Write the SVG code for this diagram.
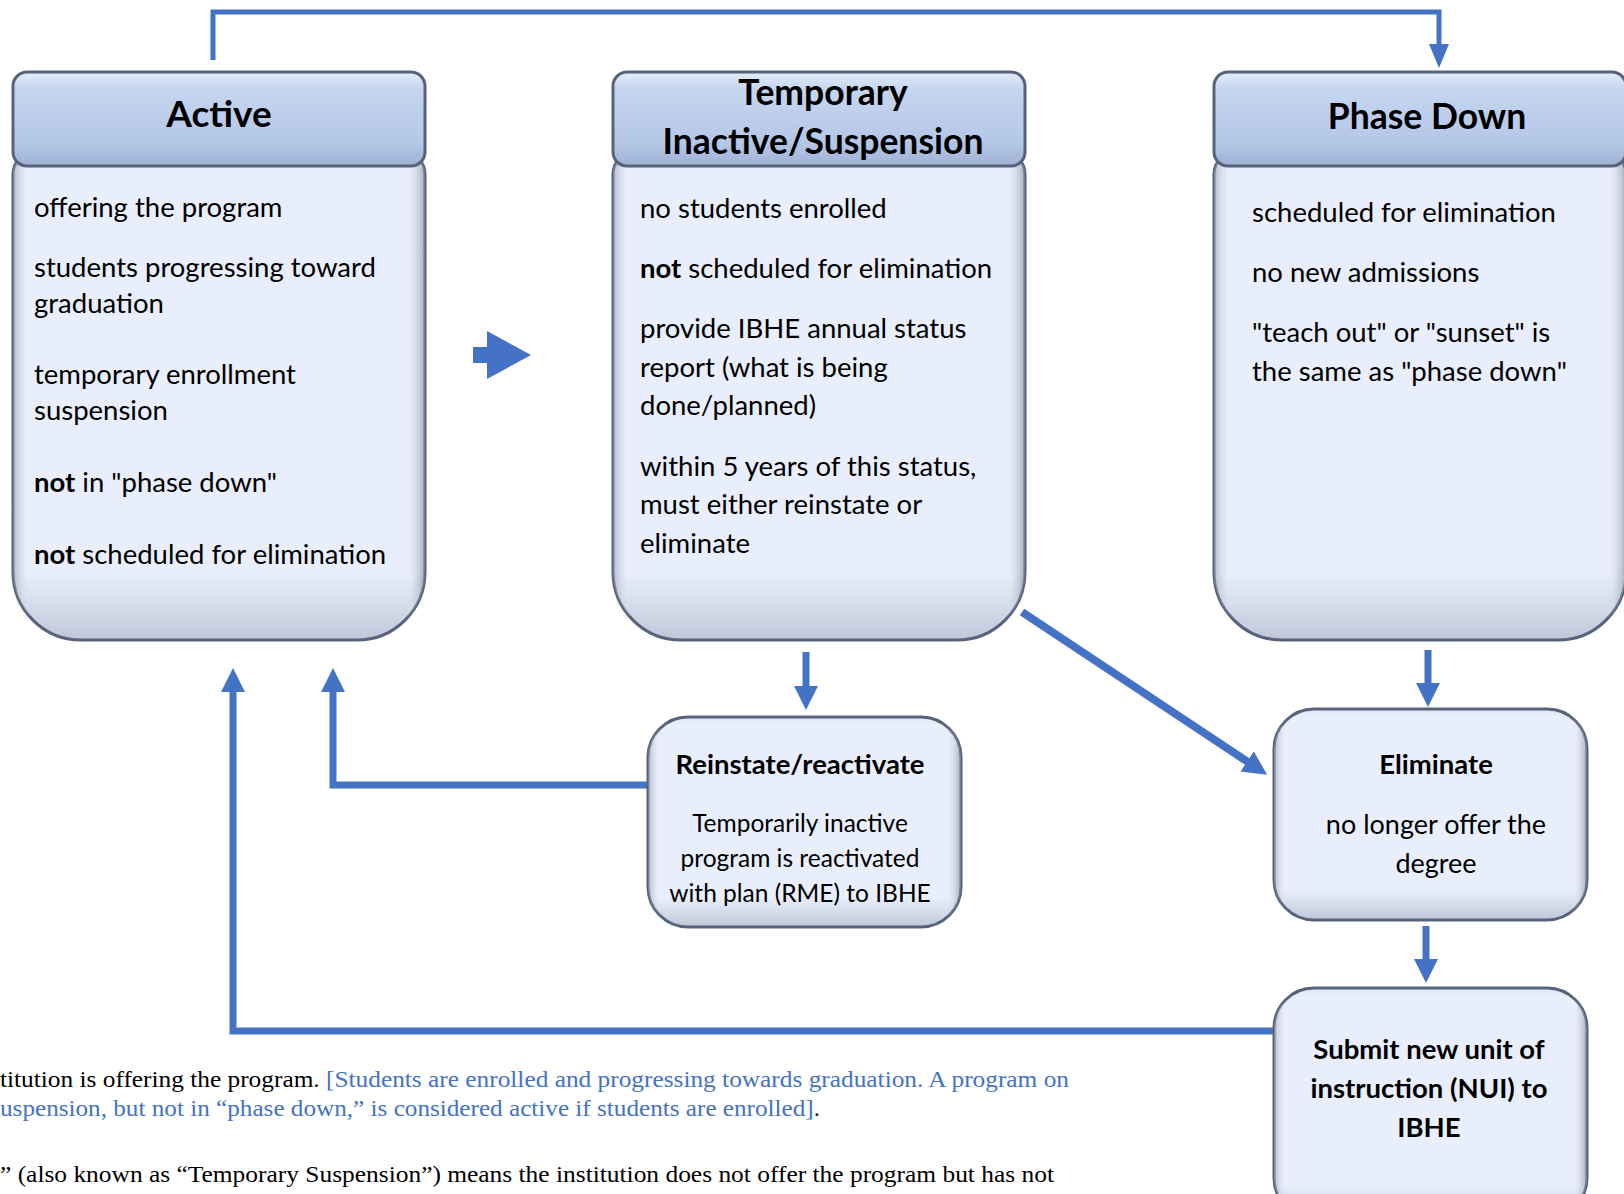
<svg xmlns="http://www.w3.org/2000/svg" width="1624" height="1194" viewBox="0 0 1624 1194">
<style>
.hdr{fill:url(#hdrGrad);stroke:#56637a;stroke-width:3}
.body{fill:url(#bodyV);stroke:#56637a;stroke-width:3}
.side{fill:url(#sideShade);stroke:none}
.t{font-family:Lato,"Open Sans","Liberation Sans",sans-serif;fill:#000}
.title{font-size:35.5px;font-weight:bold;text-anchor:middle}
.txt{font-size:27.5px}
.b{font-weight:bold}
.small{font-size:24.5px;text-anchor:middle}
.smallb{font-size:27.5px;font-weight:bold;text-anchor:middle}
.conn{fill:none;stroke:#4472c4;stroke-width:7}
.thin{fill:none;stroke:#4472c4;stroke-width:5}
.foot{font-family:"Liberation Serif","Times New Roman",serif;font-size:24px;fill:#000}
.blue{fill:#4472c4}
</style>
<defs>
<linearGradient id="hdrGrad" x1="0" y1="0" x2="0" y2="1">
<stop offset="0" stop-color="#e4ecf9"/>
<stop offset="0.18" stop-color="#c6d6f0"/>
<stop offset="0.75" stop-color="#b4c7e7"/>
<stop offset="1" stop-color="#9fb2d4"/>
</linearGradient>
<linearGradient id="bodyV" x1="0" y1="0" x2="0" y2="1">
<stop offset="0" stop-color="#dfe6f3"/>
<stop offset="0.04" stop-color="#e8eefb"/>
<stop offset="0.86" stop-color="#e8eefb"/>
<stop offset="1" stop-color="#bfc7d8"/>
</linearGradient>
<linearGradient id="sideShade" x1="0" y1="0" x2="1" y2="0">
<stop offset="0" stop-color="#8c96aa" stop-opacity="0.6"/>
<stop offset="0.045" stop-color="#ffffff" stop-opacity="0"/>
<stop offset="0.95" stop-color="#ffffff" stop-opacity="0"/>
<stop offset="1" stop-color="#7c869a" stop-opacity="0.65"/>
</linearGradient>
<marker id="ah" markerUnits="userSpaceOnUse" markerWidth="26" markerHeight="26" refX="1" refY="12" orient="auto">
<path d="M0,0 L24,12 L0,24 Z" fill="#4472c4"/>
</marker>
<marker id="ahs" markerUnits="userSpaceOnUse" markerWidth="26" markerHeight="22" refX="1" refY="10" orient="auto">
<path d="M0,0 L24,10 L0,20 Z" fill="#4472c4"/>
</marker>
</defs>

<g id="connectors">
<path class="thin" d="M213,60 L213,12 L1439,12 L1439,45" marker-end="url(#ahs)"/>
<path d="M473,347 L487,347 L487,331 L531,355 L487,379 L487,363 L473,363 Z" fill="#4472c4"/>
<path class="conn" d="M806,652 L806,687" marker-end="url(#ah)"/>
<path class="conn" d="M1428,650 L1428,684" marker-end="url(#ah)"/>
<path class="conn" d="M1426,926 L1426,960" marker-end="url(#ah)"/>
<path class="conn" d="M650,785 L333,785 L333,691" marker-end="url(#ah)"/>
<path class="conn" d="M1274,1031 L233,1031 L233,691" marker-end="url(#ah)"/>
<path class="conn" style="stroke-width:8" d="M1022,612 L1248,762" marker-end="url(#ah)"/>
</g>

<g id="node-active">
<path class="body" d="M13,174 A22,22 0 0 1 35,152 L403,152 A22,22 0 0 1 425,174 L425,572 A68,68 0 0 1 357,640 L81,640 A68,68 0 0 1 13,572 Z"/>
<path class="side" d="M13,174 A22,22 0 0 1 35,152 L403,152 A22,22 0 0 1 425,174 L425,572 A68,68 0 0 1 357,640 L81,640 A68,68 0 0 1 13,572 Z"/>
<rect class="hdr" x="13" y="72" width="412" height="94" rx="14"/>
<text class="t title" style="font-size:37px" x="219" y="127">Active</text>
<text class="t txt" x="34" y="217">offering the program</text>
<text class="t txt" x="34" y="277">students progressing toward</text>
<text class="t txt" x="34" y="313">graduation</text>
<text class="t txt" x="34" y="384">temporary enrollment</text>
<text class="t txt" x="34" y="420">suspension</text>
<text class="t txt" x="34" y="492"><tspan class="b">not</tspan> in "phase down"</text>
<text class="t txt" x="34" y="564"><tspan class="b">not</tspan> scheduled for elimination</text>
</g>

<g id="node-temporary">
<path class="body" d="M613,174 A22,22 0 0 1 635,152 L1003,152 A22,22 0 0 1 1025,174 L1025,572 A68,68 0 0 1 957,640 L681,640 A68,68 0 0 1 613,572 Z"/>
<path class="side" d="M613,174 A22,22 0 0 1 635,152 L1003,152 A22,22 0 0 1 1025,174 L1025,572 A68,68 0 0 1 957,640 L681,640 A68,68 0 0 1 613,572 Z"/>
<rect class="hdr" x="613" y="72" width="412" height="94" rx="14"/>
<text class="t title" x="823" y="105">Temporary</text>
<text class="t title" x="823" y="154">Inactive/Suspension</text>
<text class="t txt" x="640" y="218">no students enrolled</text>
<text class="t txt" x="640" y="278"><tspan class="b">not</tspan> scheduled for elimination</text>
<text class="t txt" x="640" y="338">provide IBHE annual status</text>
<text class="t txt" x="640" y="377">report (what is being</text>
<text class="t txt" x="640" y="415">done/planned)</text>
<text class="t txt" x="640" y="476">within 5 years of this status,</text>
<text class="t txt" x="640" y="514">must either reinstate or</text>
<text class="t txt" x="640" y="553">eliminate</text>
</g>

<g id="node-phasedown">
<path class="body" d="M1214,174 A22,22 0 0 1 1236,152 L1604,152 A22,22 0 0 1 1626,174 L1626,572 A68,68 0 0 1 1558,640 L1282,640 A68,68 0 0 1 1214,572 Z"/>
<path class="side" d="M1214,174 A22,22 0 0 1 1236,152 L1604,152 A22,22 0 0 1 1626,174 L1626,572 A68,68 0 0 1 1558,640 L1282,640 A68,68 0 0 1 1214,572 Z"/>
<rect class="hdr" x="1214" y="72" width="412" height="94" rx="14"/>
<text class="t title" x="1427" y="129">Phase Down</text>
<text class="t txt" x="1252" y="222">scheduled for elimination</text>
<text class="t txt" x="1252" y="282">no new admissions</text>
<text class="t txt" x="1252" y="342">"teach out" or "sunset" is</text>
<text class="t txt" x="1252" y="381">the same as "phase down"</text>
</g>

<g id="node-reinstate">
<rect class="body" x="648" y="717" width="313" height="210" rx="40"/>
<rect class="side" x="648" y="717" width="313" height="210" rx="40"/>
<text class="t smallb" x="800" y="774">Reinstate/reactivate</text>
<text class="t small" x="800" y="832">Temporarily inactive</text>
<text class="t small" x="800" y="867">program is reactivated</text>
<text class="t small" x="800" y="902">with plan (RME) to IBHE</text>
</g>

<g id="node-eliminate">
<rect class="body" x="1274" y="709" width="313" height="211" rx="40"/>
<rect class="side" x="1274" y="709" width="313" height="211" rx="40"/>
<text class="t smallb" x="1436" y="774">Eliminate</text>
<text class="t small" style="font-size:27px" x="1436" y="834">no longer offer the</text>
<text class="t small" style="font-size:27px" x="1436" y="873">degree</text>
</g>

<g id="node-submit">
<rect class="body" x="1274" y="988" width="313" height="230" rx="40"/>
<rect class="side" x="1274" y="988" width="313" height="230" rx="40"/>
<text class="t smallb" x="1429" y="1059">Submit new unit of</text>
<text class="t smallb" x="1429" y="1098">instruction (NUI) to</text>
<text class="t smallb" x="1429" y="1137">IBHE</text>
</g>

<g id="footnote">
<text class="foot" x="0" y="1087" textLength="1069" lengthAdjust="spacingAndGlyphs">titution is offering the program. <tspan class="blue">[Students are enrolled and progressing towards graduation. A program on</tspan></text>
<text class="foot" x="0" y="1116" textLength="820" lengthAdjust="spacingAndGlyphs"><tspan class="blue">uspension, but not in “phase down,” is considered active if students are enrolled]</tspan>.</text>
<text class="foot" x="0" y="1182" textLength="1054" lengthAdjust="spacingAndGlyphs">” (also known as “Temporary Suspension”) means the institution does not offer the program but has not</text>
</g>
</svg>
